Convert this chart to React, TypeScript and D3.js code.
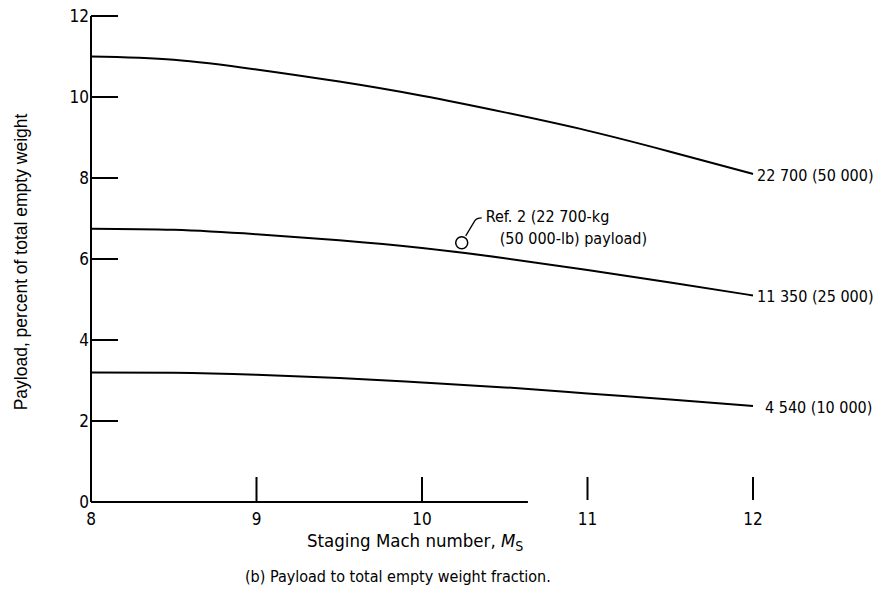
import React from "react";
import * as d3 from "d3";

// Staging Mach number samples
const machNumbers = [8, 8.5, 9, 9.5, 10, 10.5, 11, 11.5, 12];

// Payload, percent of total empty weight, one series per payload mass
const payload22700 = [11.0, 10.92, 10.68, 10.38, 10.03, 9.62, 9.17, 8.65, 8.1];
const payload11350 = [6.75, 6.72, 6.61, 6.46, 6.27, 6.02, 5.73, 5.42, 5.1];
const payload4540 = [3.2, 3.19, 3.14, 3.06, 2.95, 2.83, 2.68, 2.53, 2.37];

const seriesLabels = ["22 700 (50 000)", "11 350 (25 000)", "4 540 (10 000)"];
const seriesValues = [payload22700, payload11350, payload4540];

const yTicks = [0, 2, 4, 6, 8, 10, 12];
const xTicks = [8, 9, 10, 11, 12];

// Reference 2 design point
const refPoint = { mach: 10.24, payload: 6.4 };

const condensed = "'Liberation Sans Narrow', 'DejaVu Sans Condensed', 'Noto Sans', sans-serif";
const regular = "'Liberation Sans', Arial, sans-serif";

export default function App() {
  const width = 885;
  const height = 593;
  const x = d3.scaleLinear().domain([8, 12]).range([91, 753]);
  const y = d3.scaleLinear().domain([0, 12]).range([502, 16]);

  const line = d3
    .line<number>()
    .x((_, i) => x(machNumbers[i]))
    .y((d) => y(d))
    .curve(d3.curveNatural);

  const rx = x(refPoint.mach);
  const ry = y(refPoint.payload);

  return (
    <svg
      width={width}
      height={height}
      style={{ position: "absolute", left: 0, top: 0, background: "#fff" }}
    >
      {/* y axis */}
      <line x1={x(8)} x2={x(8)} y1={y(12)} y2={y(0)} stroke="#000" strokeWidth={2} />
      {yTicks.map((t) => (
        <g key={`yt${t}`}>
          {t > 0 && (
            <line x1={x(8)} x2={x(8) + 27} y1={y(t)} y2={y(t)} stroke="#000" strokeWidth={2} />
          )}
          <text
            x={x(8) - 2}
            y={y(t)}
            dy="0.35em"
            textAnchor="end"
            fontFamily={condensed}
            fontSize={17}
          >
            {t}
          </text>
        </g>
      ))}

      {/* x axis baseline (partial) and ticks */}
      <line x1={x(8)} x2={x(10.64)} y1={y(0)} y2={y(0)} stroke="#000" strokeWidth={2} />
      {xTicks.map((t) => (
        <g key={`xt${t}`}>
          {t > 8 && (
            <line x1={x(t)} x2={x(t)} y1={y(0) - 25} y2={y(0) - (t > 10 ? 2 : 0)} stroke="#000" strokeWidth={2} />
          )}
          <text
            x={x(t)}
            y={y(0) + 23}
            textAnchor="middle"
            fontFamily={condensed}
            fontSize={17}
          >
            {t}
          </text>
        </g>
      ))}

      {/* curves */}
      {seriesValues.map((vals, i) => (
        <g key={`s${i}`}>
          <path d={line(vals) ?? ""} fill="none" stroke="#000" strokeWidth={2} />
          <text
            x={x(12) + (i === 2 ? 12 : 4)}
            y={y(vals[vals.length - 1]) + 1}
            dy="0.35em"
            fontFamily={condensed}
            fontSize={16}
          >
            {seriesLabels[i]}
          </text>
        </g>
      ))}

      {/* reference point and note */}
      <circle cx={rx} cy={ry} r={6} fill="none" stroke="#000" strokeWidth={1.5} />
      <path
        d={`M${rx + 4},${ry - 7} L${rx + 13},${ry - 22} Q${rx + 15},${ry - 25} ${rx + 20},${ry - 25}`}
        fill="none"
        stroke="#000"
        strokeWidth={1.3}
      />
      <text x={rx + 24} y={ry - 21} fontFamily={condensed} fontSize={16}>
        Ref. 2 (22 700-kg
      </text>
      <text x={rx + 38} y={ry + 1} fontFamily={condensed} fontSize={16}>
        (50 000-lb) payload)
      </text>

      {/* axis titles */}
      <text x={307} y={547} fontFamily={condensed} fontSize={18.5}>
        Staging Mach number,{" "}
        <tspan fontStyle="italic">M</tspan>
        <tspan fontSize={14} dy={4}>S</tspan>
      </text>
      <text
        transform={`translate(27,262) rotate(-90)`}
        textAnchor="middle"
        fontFamily={regular}
        fontSize={17.5}
      >
        Payload, percent of total empty weight
      </text>
      <text x={245} y={582} fontFamily={condensed} fontSize={16}>
        (b) Payload to total empty weight fraction.
      </text>
    </svg>
  );
}
